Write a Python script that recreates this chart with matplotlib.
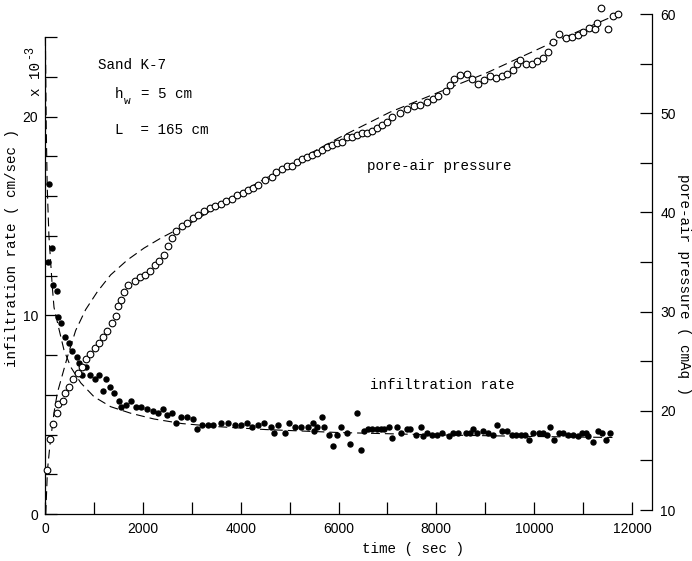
import matplotlib
matplotlib.use("Agg")
import matplotlib.pyplot as plt
from matplotlib.ticker import MultipleLocator

W, H = 692, 561
MONO = "Liberation Mono"
TICKFONT = "Liberation Sans"

# infiltration rate (x 10^-3 cm/sec), filled dots, left axis
rate_t = [68, 88, 150, 170, 240, 272, 320, 410, 490, 560,
          660, 695, 765, 840, 920, 1020, 1110, 1180, 1250, 1330,
          1420, 1510, 1550, 1650, 1750, 1860, 1960, 2080, 2200, 2310,
          2420, 2490, 2600, 2680, 2780, 2900, 3030, 3100, 3200, 3340,
          3440, 3600, 3750, 3890, 4010, 4120, 4240, 4350, 4480, 4630,
          4690, 4770, 4900, 4990, 5110, 5230, 5370, 5470, 5500, 5560,
          5660, 5700, 5810, 5890, 5970, 6050, 6170, 6240, 6380, 6460,
          6520, 6610, 6690, 6780, 6870, 6930, 7030, 7100, 7200, 7280,
          7400, 7460, 7580, 7690, 7730, 7810, 7910, 8010, 8120, 8260,
          8340, 8440, 8610, 8690, 8750, 8830, 8960, 9060, 9160, 9240,
          9340, 9440, 9550, 9630, 9730, 9810, 9900, 9980, 10100, 10190,
          10260, 10330, 10400, 10510, 10590, 10690, 10790, 10900, 10980, 11060,
          11100, 11200, 11300, 11390, 11470, 11550]
rate_v = [12.7, 16.6, 13.4, 11.5, 11.2, 9.9, 9.6, 8.9, 8.6, 8.2,
          7.9, 7.6, 7.0, 7.4, 7.0, 6.8, 7.0, 6.2, 6.8, 6.4,
          6.1, 5.7, 5.4, 5.5, 5.7, 5.4, 5.4, 5.3, 5.2, 5.1,
          5.3, 5.0, 5.1, 4.6, 4.9, 4.9, 4.8, 4.3, 4.5, 4.5,
          4.5, 4.6, 4.6, 4.5, 4.5, 4.6, 4.4, 4.5, 4.6, 4.4,
          4.1, 4.5, 4.1, 4.6, 4.4, 4.4, 4.4, 4.6, 4.2, 4.4,
          4.9, 4.4, 4.0, 3.4, 4.0, 4.4, 4.1, 3.5, 5.1, 3.2,
          4.2, 4.3, 4.3, 4.3, 4.3, 4.3, 4.4, 3.8, 4.4, 4.1,
          4.3, 4.3, 4.0, 4.4, 3.9, 4.1, 4.0, 4.0, 4.1, 3.9,
          4.1, 4.1, 4.1, 4.1, 4.3, 4.1, 4.2, 4.1, 4.0, 4.5,
          4.2, 4.2, 4.0, 4.0, 4.0, 4.0, 3.7, 4.1, 4.1, 4.1,
          4.0, 4.4, 3.7, 4.1, 4.1, 4.0, 4.0, 3.9, 4.1, 4.1,
          3.9, 3.6, 4.2, 4.1, 3.7, 4.1]

# fitted infiltration curve (dashed)
rate_fit_t = [8, 25, 45, 80, 150, 184, 286, 388, 525, 730, 1002, 1342,
              1751, 2228, 2800, 3500, 4500, 6000, 8000, 10000, 11600]
rate_fit_v = [24.0, 19.5, 16.5, 14.0, 11.4, 10.4, 9.3, 8.25, 7.4, 6.6, 5.9, 5.4,
              5.07, 4.78, 4.55, 4.4, 4.25, 4.1, 3.98, 3.9, 3.85]

# pore-air pressure (cmAq), open circles, right axis
pore_t = [50, 100, 170, 240, 270, 360, 410, 500, 580, 670,
          750, 840, 920, 1020, 1100, 1190, 1260, 1360, 1450, 1490,
          1550, 1620, 1700, 1840, 1940, 2040, 2150, 2250, 2340, 2440,
          2520, 2600, 2678, 2794, 2896, 3019, 3134, 3250, 3373, 3475, 3591,
          3700, 3816, 3932, 4041, 4157, 4259, 4361, 4497, 4634, 4722,
          4838, 4940, 5043, 5145, 5247, 5349, 5452, 5554, 5656, 5758,
          5861, 5963, 6065, 6167, 6269, 6372, 6474, 6576, 6678, 6780,
          6883, 6985,
          7087, 7257, 7393, 7543, 7666, 7802, 7925, 8040, 8197, 8279,
          8368, 8483, 8620, 8735, 8858, 8974, 9097, 9219, 9335, 9450,
          9573, 9641, 9710, 9832, 9948, 10064, 10173, 10289, 10391, 10513,
          10643, 10766, 10889, 11004, 11126, 11243, 11290, 11359, 11515, 11605,
          11720]
pore_v = [14.0, 17.2, 18.7, 19.8, 20.7, 21.0, 21.8, 22.4, 23.2, 23.8,
          24.4, 25.2, 25.7, 26.3, 26.8, 27.4, 28.0, 28.9, 29.6, 30.6,
          31.2, 32.0, 32.7, 33.1, 33.5, 33.7, 34.1, 34.7, 35.1, 35.7,
          36.6, 37.4, 38.1, 38.6, 38.9, 39.4, 39.7, 40.1, 40.4, 40.6, 40.8,
          41.1, 41.4, 41.8, 42.0, 42.3, 42.5, 42.8, 43.3, 43.6, 44.1,
          44.4, 44.7, 44.7, 45.1, 45.4, 45.6, 45.8, 46.0, 46.3, 46.6,
          46.8, 47.0, 47.1, 47.6, 47.6, 47.8, 48.0, 48.0, 48.2, 48.5,
          48.8, 49.1,
          49.6, 50.0, 50.4, 50.7, 50.8, 51.1, 51.4, 51.7, 52.2, 52.8,
          53.4, 53.9, 54.0, 53.4, 52.9, 53.3, 53.7, 53.5, 53.8, 54.0,
          54.4, 55.0, 55.4, 55.0, 55.0, 55.3, 55.6, 56.2, 57.2, 58.0,
          57.6, 57.7, 57.9, 58.2, 58.6, 58.5, 59.1, 60.6, 58.5, 59.8,
          60.0]

# fitted pore-air pressure curve (dashed)
pore_fit_t = [15, 50, 100, 184, 252, 456, 627, 831, 1070, 1342, 1683,
              2024, 2365, 2637, 3000, 4000, 5000, 6000, 7050, 8240, 9000,
              10320, 11860]
pore_fit_v = [9.6, 14.0, 16.5, 19.8, 21.8, 25.4, 28.1, 30.2, 32.0, 33.7, 35.2,
              36.4, 37.4, 38.1, 39.0, 42.0, 44.8, 47.5, 50.1, 52.5, 54.0,
              57.0, 60.3]

x_major = [0, 2000, 4000, 6000, 8000, 10000, 12000]
left_major = [0, 10, 20]
right_major = [10, 20, 30, 40, 50, 60]


def fx(px):
    return px / W


def fy(py):
    return 1 - py / H


fig = plt.figure(figsize=(W / 100, H / 100), dpi=100)

# main (left) axes: x 45..632 px, y 514..37 px
ax = fig.add_axes([fx(45), fy(514), (632 - 45) / W, (514 - 37) / H])
ax.set_xlim(0, 12000)
ax.set_ylim(0, 24)
for s in ("top", "right"):
    ax.spines[s].set_visible(False)
for s in ("left", "bottom"):
    ax.spines[s].set_linewidth(0.9)

ax.set_xticks(x_major)
ax.xaxis.set_minor_locator(MultipleLocator(1000))
ax.set_yticks(left_major)
ax.yaxis.set_minor_locator(MultipleLocator(2))
ax.tick_params(which="both", direction="in", length=8.6, width=0.9)
ax.tick_params(axis="x", which="major", pad=6)
ax.tick_params(axis="y", which="major", pad=5)
for lab in ax.get_xticklabels() + ax.get_yticklabels():
    lab.set_fontfamily(TICKFONT)
    lab.set_fontsize(10)

dash = (0, (8, 4.5))
ax.plot(rate_fit_t, rate_fit_v, color="black", lw=0.8, linestyle=dash,
        clip_on=False)
ax.plot(rate_t, rate_v, "o", color="black", ms=3.6, clip_on=False)

# right axes: 10 at y=510 px, 60 at y=14 px, spine at x=652 px
ax2 = fig.add_axes([fx(45), fy(510), (632 - 45) / W, (510 - 14) / H])
ax2.patch.set_visible(False)
ax2.set_xlim(0, 12000)
ax2.set_ylim(10, 60)
for s in ("top", "left", "bottom"):
    ax2.spines[s].set_visible(False)
ax2.spines["right"].set_position(("axes", (652 - 45) / (632 - 45)))
ax2.spines["right"].set_linewidth(0.9)
ax2.set_xticks([])
ax2.yaxis.tick_right()
ax2.set_yticks(right_major)
ax2.yaxis.set_minor_locator(MultipleLocator(5))
ax2.tick_params(which="both", direction="in", length=8.6, width=0.9, pad=6)
for lab in ax2.get_yticklabels():
    lab.set_fontfamily(TICKFONT)
    lab.set_fontsize(10)

ax2.plot(pore_fit_t, pore_fit_v, color="black", lw=0.8, linestyle=dash,
         clip_on=False)
ax2.plot(pore_t, pore_v, "o", mfc="white", mec="black", mew=0.8, ms=4.8,
         clip_on=False)

# texts
fs = 10.3
fig.text(fx(98), fy(65), "Sand K-7", family=MONO, fontsize=fs, va="center")
fig.text(fx(115), fy(94), "h", family=MONO, fontsize=fs, va="center")
fig.text(fx(124), fy(101), "w", family=MONO, fontsize=8, va="center")
fig.text(fx(141), fy(94), "= 5 cm", family=MONO, fontsize=fs, va="center")
fig.text(fx(115), fy(130), "L  = 165 cm", family=MONO, fontsize=fs,
         va="center")
fig.text(fx(367), fy(166), "pore-air pressure", family=MONO, fontsize=fs,
         va="center")
fig.text(fx(370), fy(385), "infiltration rate", family=MONO, fontsize=fs,
         va="center")
fig.text(fx(362), fy(549), "time ( sec )", family=MONO, fontsize=fs,
         va="center")

fig.text(fx(12), fy(248), "infiltration rate ( cm/sec )", family=MONO,
         fontsize=fs, rotation=90, ha="center", va="center")
fig.text(fx(36), fy(79), "x 10", family=MONO, fontsize=fs, rotation=90,
         ha="center", va="center")
fig.text(fx(29), fy(52), "-3", family=MONO, fontsize=8.5, rotation=90,
         ha="center", va="center")
fig.text(fx(684), fy(284), "pore-air pressure ( cmAq )", family=MONO,
         fontsize=fs, rotation=-90, ha="center", va="center")

fig.savefig("out.png", dpi=100)
